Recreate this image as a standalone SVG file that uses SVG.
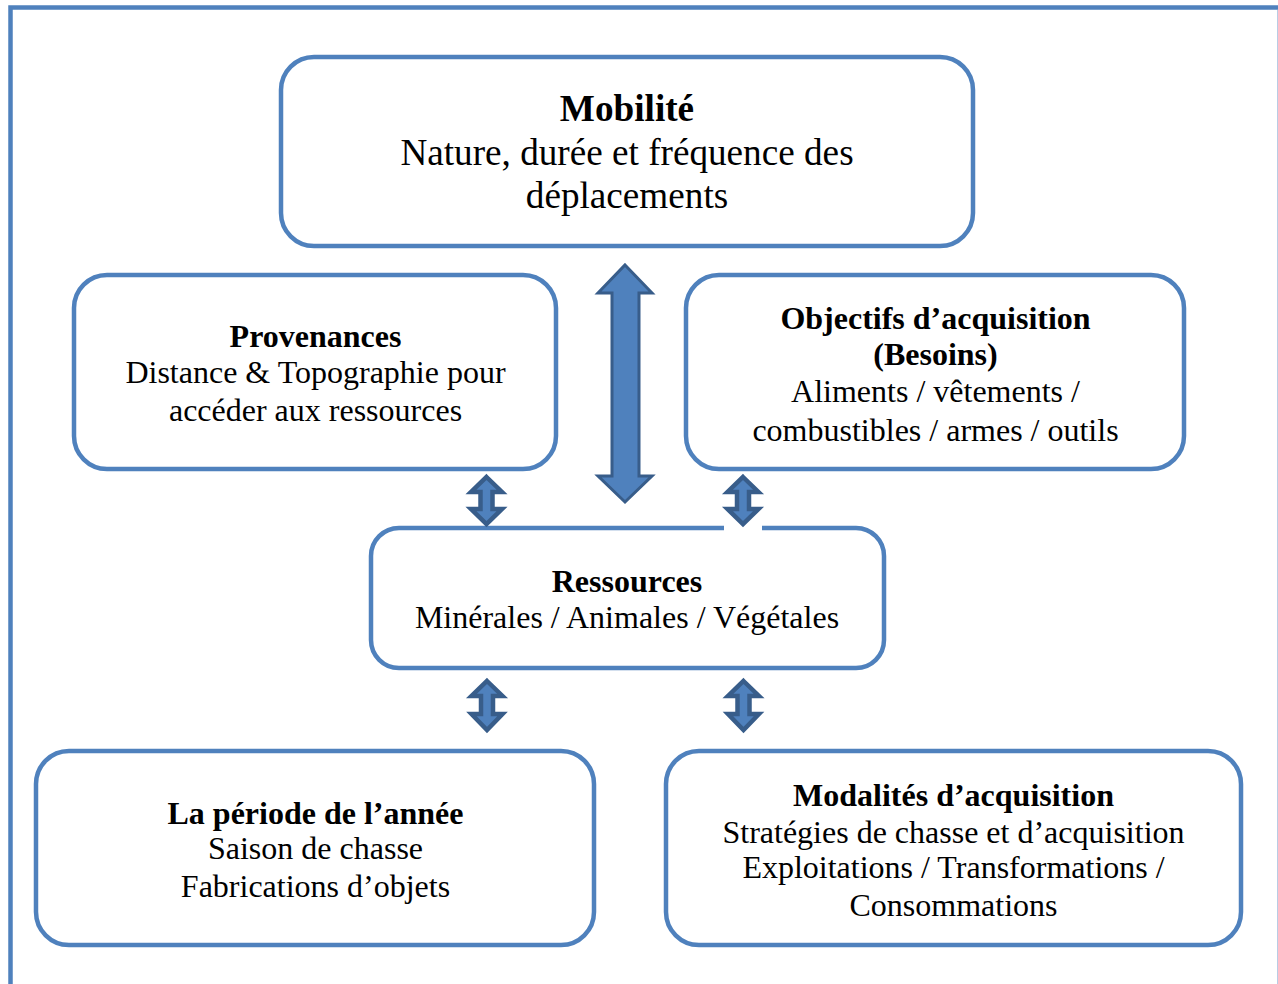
<svg xmlns="http://www.w3.org/2000/svg" width="1278" height="984" viewBox="0 0 1278 984">
  <style>
    .box { fill: #ffffff; stroke: #4F81BD; stroke-width: 4.5; }
    .frame { fill: none; stroke: #4F81BD; stroke-width: 4.5; }
    .arrow { fill: #4F81BD; stroke: #385D8A; stroke-linejoin: miter; }
    .big { stroke-width: 3; }
    .small { stroke-width: 4.5; }
    text { font-family: "Liberation Serif", "Times New Roman", serif; fill: #000000; text-anchor: middle; }
    .t { font-weight: bold; }
    .m { font-size: 37.2px; }
    .n { font-size: 32px; }
  </style>

  <!-- page frame -->
  <path class="frame" d="M10.5,990 L10.5,7.5 L1280,7.5"/>
  <line x1="1277.5" y1="10" x2="1277.5" y2="984" stroke="#B9CDE5" stroke-width="1"/>

  <g id="mobilite">
    <rect class="box" x="281" y="57" width="692" height="189" rx="33"/>
    <text class="m t" x="627" y="121">Mobilité</text>
    <text class="m" x="627" y="165">Nature, durée et fréquence des</text>
    <text class="m" x="627" y="208">déplacements</text>
  </g>

  <g id="provenances">
    <rect class="box" x="74" y="275" width="482" height="194" rx="33"/>
    <text class="n t" x="315.5" y="347">Provenances</text>
    <text class="n" x="315.5" y="383">Distance &amp; Topographie pour</text>
    <text class="n" x="315.5" y="421">accéder aux ressources</text>
  </g>

  <g id="objectifs">
    <rect class="box" x="686" y="275" width="498" height="194" rx="33"/>
    <text class="n t" x="935.5" y="329">Objectifs d’acquisition</text>
    <text class="n t" x="935.5" y="365">(Besoins)</text>
    <text class="n" x="935.5" y="402">Aliments / vêtements /</text>
    <text class="n" x="935.5" y="441">combustibles / armes / outils</text>
  </g>

  <g id="ressources">
    <rect class="box" x="371" y="528" width="513" height="140" rx="28"/>
    <text class="n t" x="627" y="592">Ressources</text>
    <text class="n" x="627" y="628">Minérales / Animales / Végétales</text>
  </g>

  <g id="periode">
    <rect class="box" x="36" y="751" width="558" height="194" rx="33"/>
    <text class="n t" x="315.5" y="824">La période de l’année</text>
    <text class="n" x="315.5" y="859">Saison de chasse</text>
    <text class="n" x="315.5" y="897">Fabrications d’objets</text>
  </g>

  <g id="modalites">
    <rect class="box" x="666" y="751" width="575" height="194" rx="33"/>
    <text class="n t" x="953.5" y="806">Modalités d’acquisition</text>
    <text class="n" x="953.5" y="843">Stratégies de chasse et d’acquisition</text>
    <text class="n" x="953.5" y="878">Exploitations / Transformations /</text>
    <text class="n" x="953.5" y="916">Consommations</text>
  </g>

  <g id="connectors">
    <!-- Mobilité <-> Ressources -->
    <polygon class="arrow big" points="625,265 652,293 639,293 639,476 652,476 625,502 598,476 612,476 612,293 598,293"/>
    <!-- Provenances <-> Ressources -->
    <polygon class="arrow small" points="486.5,477 502,492 492.5,492 492.5,509 502,509 486.5,524 471,509 480.5,509 480.5,492 471,492"/>
    <!-- Objectifs <-> Ressources (white patch breaks the box border under the arrow) -->
    <rect x="724" y="522" width="38" height="9" fill="#ffffff"/>
    <polygon class="arrow small" points="743,477 758.5,492 749,492 749,509 758.5,509 743,524 727.5,509 737,509 737,492 727.5,492"/>
    <!-- Ressources <-> La période -->
    <polygon class="arrow small" points="487,681 502.5,696 493,696 493,714 502.5,714 487,730 471.5,714 481,714 481,696 471.5,696"/>
    <!-- Ressources <-> Modalités -->
    <polygon class="arrow small" points="743.5,681 759,696 749.5,696 749.5,714 759,714 743.5,730 728,714 737.5,714 737.5,696 728,696"/>
  </g>
</svg>
